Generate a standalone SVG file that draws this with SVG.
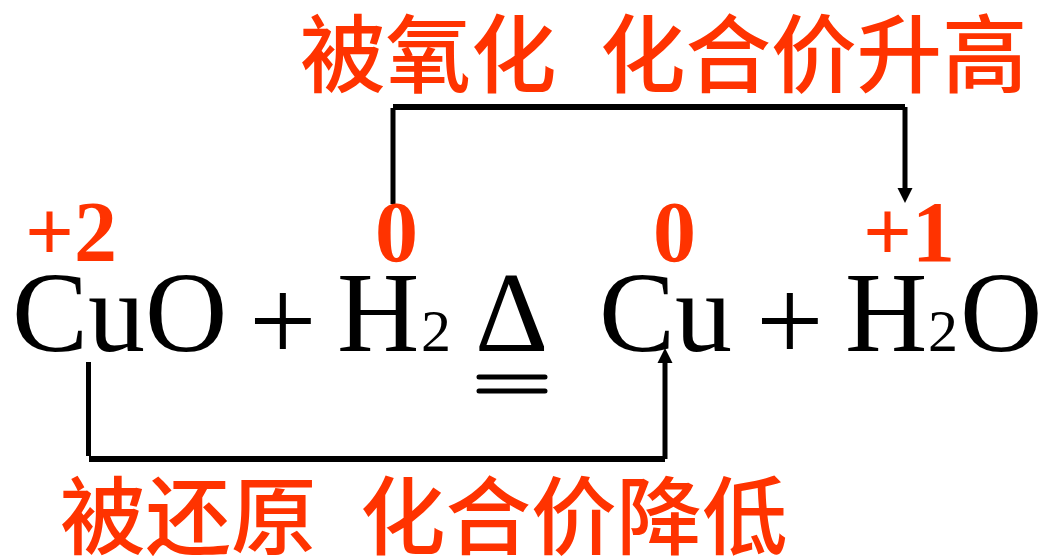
<svg xmlns="http://www.w3.org/2000/svg" width="1045" height="559" viewBox="0 0 1045 559">
<style>
.f{font-family:"Liberation Serif","Times New Roman",serif;fill:#000}
.c{font-size:114px}
.p{font-size:120px}
.s{font-size:60px}
.n{font-family:"Liberation Serif",serif;font-size:86px;font-weight:bold;fill:#ff3300}
.z{font-family:"Noto Sans CJK SC",sans-serif;font-size:85.500px;font-weight:500;fill:#ff3300}
.v{fill:none;stroke:#000;stroke-width:5}
.h{fill:none;stroke:#000;stroke-width:6}
</style>
<rect width="1045" height="559" fill="#fff"/>
<g id="connectors">
<path class="v" d="M393 204V108"/>
<path class="h" d="M393 107H905"/>
<path class="v" d="M905 107V190"/>
<path d="M897.500 188H912.500L905 203Z" fill="#000"/>
<path class="v" d="M88.500 362V456"/>
<path class="h" d="M89 459H665"/>
<path class="v" d="M665 459V362"/>
<path d="M657.500 363H672.500L665 348Z" fill="#000"/>
</g>
<g id="top-label"><text class="z" x="300" y="86">被氧化</text><text class="z" x="600" y="86">化合价升高</text></g>
<g id="bottom-label"><text class="z" x="60" y="548">被还原</text><text class="z" x="360" y="548">化合价降低</text></g>
<g id="ox1"><text class="n" x="25" y="261">+2</text></g>
<g id="ox2"><text class="n" x="375" y="261">0</text></g>
<g id="ox3"><text class="n" x="653" y="261">0</text></g>
<g id="ox4"><text class="n" x="863" y="261">+1</text></g>
<g id="cuo"><text class="f c" x="12" y="351">CuO</text></g>
<g id="plus1"><text class="f p" x="249" y="361">+</text></g>
<g id="h2"><text class="f c" x="337" y="351">H</text><text class="f s" x="421" y="351">2</text></g>
<g id="delta"><text class="f c" x="475" y="351">Δ</text><path d="M479 377H545M479 391H545" stroke="#000" stroke-width="5" stroke-linecap="round"/></g>
<g id="cu"><text class="f c" x="599" y="351">Cu</text></g>
<g id="plus2"><text class="f p" x="756" y="361">+</text></g>
<g id="h2o"><text class="f c" x="845" y="351">H</text><text class="f s" x="928" y="351">2</text><text class="f c" x="960" y="351">O</text></g>
</svg>
